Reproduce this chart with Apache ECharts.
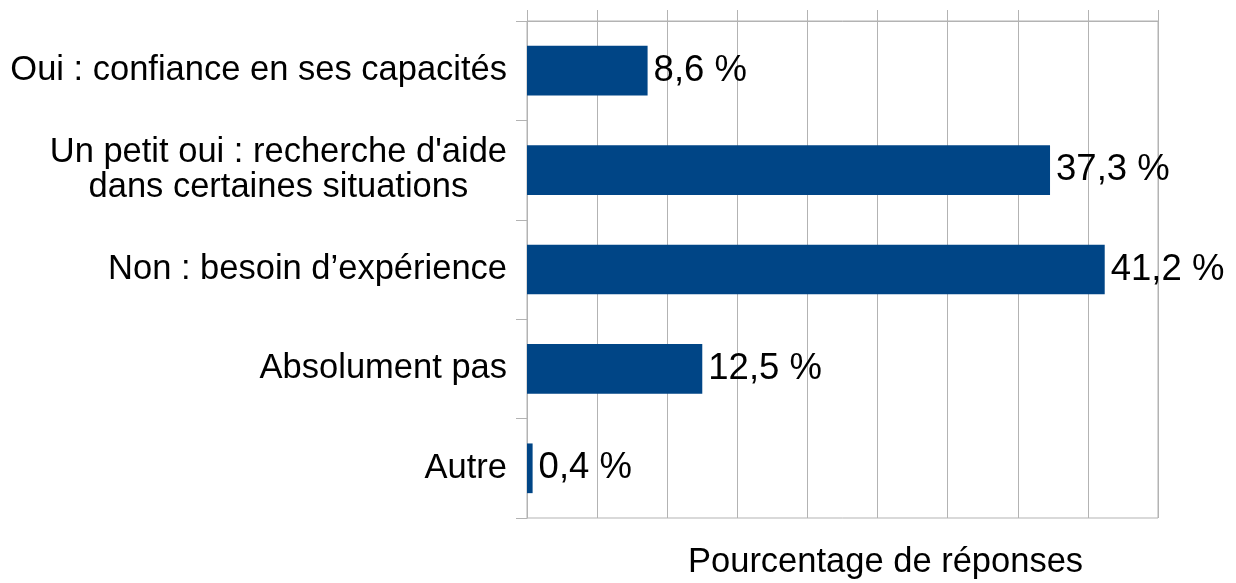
<!DOCTYPE html>
<html>
<head>
    <meta charset="utf-8">
    <title>Pourcentage de réponses</title>
    <style>
        html, body { margin: 0; padding: 0; background: #fff; }
    </style>
</head>
<body>
    <div id="main" style="width:1236px;height:583px"></div>
    <script src="https://cdn.jsdelivr.net/npm/echarts@6/dist/echarts.min.js"></script>
    <script type="text/javascript">

    var categories = [
        'Oui : confiance en ses capacités',
        "Un petit oui : recherche d'aide\ndans certaines situations",
        'Non : besoin d\u2019expérience',
        'Absolument pas',
        'Autre'
    ];
    var values = [8.6, 37.3, 41.2, 12.5, 0.4];
    var axisTitle = 'Pourcentage de réponses';

    var font = '"Liberation Sans", Arial, sans-serif';
    var gridColor = '#b3b3b3';

    var myChart = echarts.init(document.getElementById('main'));

    var option = {
        animation: false,
        textStyle: { fontFamily: font },
        grid: {
            left: 527, right: 78, top: 21, bottom: 65,
            show: true, borderColor: gridColor, borderWidth: 1
        },
        xAxis: {
            type: 'value',
            position: 'top',
            min: 0, max: 45, interval: 5,
            axisLabel: { show: false },
            axisLine: { show: true, lineStyle: { color: gridColor } },
            axisTick: { show: true, length: 11, lineStyle: { color: gridColor } },
            splitLine: { show: true, lineStyle: { color: gridColor } }
        },
        yAxis: {
            type: 'category',
            inverse: true,
            data: categories,
            axisLine: { show: true, lineStyle: { color: gridColor } },
            axisTick: { show: true, length: 11, lineStyle: { color: gridColor } },
            axisLabel: {
                margin: 20,
                color: '#000',
                fontSize: 34.5,
                lineHeight: 35,
                align: 'right',
                formatter: function (v) {
                    return v.split('\n').map(function (s) { return '{c|' + s + '}'; }).join('\n');
                },
                rich: {
                    c: { align: 'center', fontSize: 34.5, lineHeight: 35, color: '#000', fontFamily: font }
                }
            }
        },
        series: [{
            type: 'bar',
            data: values,
            barWidth: '50%',
            itemStyle: { color: '#004586' },
            label: {
                show: true,
                position: 'right',
                distance: 6,
                color: '#000',
                fontSize: 36.5,
                formatter: function (p) {
                    return p.value.toFixed(1).replace('.', ',') + ' %';
                }
            }
        }],
        graphic: [{
            type: 'text',
            left: 688,
            top: 545,
            style: { text: axisTitle, fontSize: 34.5, fill: '#000', fontFamily: font }
        }]
    };

    myChart.setOption(option);
    </script>
</body>
</html>
